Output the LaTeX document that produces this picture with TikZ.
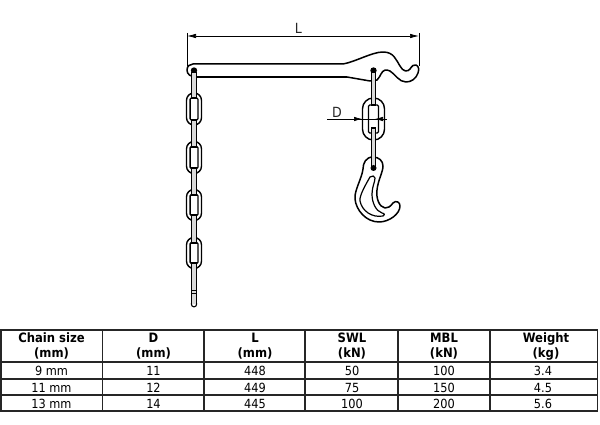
\documentclass[tikz,border=0pt]{standalone}
\usepackage{fontspec}
\setmainfont{DejaVu Sans Condensed}
\usetikzlibrary{arrows.meta}
\tikzset{
  ink/.style={draw=black,line width=1.3pt,line join=round},
  body/.style={ink,fill=white},
  rod/.style={draw=black,line width=1.1pt,double=white!85!black,double distance=3.4pt,line cap=butt},
  dim/.style={draw=black,line width=0.7pt},
  dimarrow/.style={dim,-{Latex[length=8pt,width=4.5pt]}},
  rule/.style={draw=black!85,line width=1.2pt},
  cell/.style={font=\fontsize{12.6}{13}\selectfont,anchor=center,inner sep=0pt,align=center,text=black},
  head/.style={cell,font=\fontsize{12.9}{15}\selectfont\bfseries},
  lbl/.style={font=\fontsize{14}{15}\selectfont,inner sep=0pt,text=black!85}
}
% cx, cy, half width, half height, wall x, wall y
\newcommand{\chainlink}[6]{%
  \draw[ink,line width=1.4pt,fill=white,rounded corners=#3*0.98pt] (#1-#3,#2-#4) rectangle (#1+#3,#2+#4);
  \draw[ink,line width=1.3pt,fill=white,rounded corners=1.2pt] (#1-#3+#5,#2-#4+#6) rectangle (#1+#3-#5,#2+#4-#6);
}
% rod ending in dark stubs
\newcommand{\chainrod}[3]{%
  \draw[rod] (#1,#2) -- (#1,#3);
  \fill[black] (#1-2.8,#2-0.7) rectangle (#1+2.8,#2+0.7);
  \fill[black] (#1-2.8,#3-0.7) rectangle (#1+2.8,#3+0.7);
}
\begin{document}
\begin{tikzpicture}[x=1pt,y=-1pt]
\useasboundingbox (0,0) rectangle (600,425);
\fill[white] (0,0) rectangle (600,425);
% dimension L
\coordinate (la) at (187,36); \coordinate (lb) at (419,36);
\draw[dim] (187,33) -- (187,66);
\draw[dim] (419,33) -- (419,66);
\draw[dim,{Latex[length=9pt,width=4.5pt]}-{Latex[length=9pt,width=4.5pt]}] (la) -- (lb);
\node[lbl] (ltext) at (298.5,28.5) {L};
% hook bar
\draw[body,line width=1.5pt] (193,64)
  -- (343,64)
  .. controls (355,62) and (372,52) .. (383,52)
  .. controls (394,52) and (396,60) .. (400,66)
  .. controls (403,72) and (408,72) .. (410,69)
  .. controls (412,66) and (414,64) .. (416,65)
  .. controls (419,66) and (419,70) .. (418,73)
  .. controls (416,79) and (411,82) .. (406,82)
  .. controls (399,82) and (395,74) .. (390,71)
  .. controls (386,69) and (383,70) .. (381,74)
  .. controls (380,76) and (379,78) .. (377,80)
  -- (370,81) -- (347,77) -- (197,77)
  .. controls (190,77) and (187,74) .. (187,70)
  .. controls (187,66) and (190,64) .. (193,64) -- cycle;
\draw[draw=black,line width=1.9pt] (197,77) -- (347,77);
% left chain
\chainlink{194}{109}{7.5}{16}{3.6}{5}
\chainlink{194}{157.5}{7.5}{16}{3.6}{5}
\chainlink{194}{205}{7.5}{15.5}{3.6}{5}
\chainlink{194}{253}{7.5}{15.5}{3.6}{5}
\fill[black] (194,70.5) circle[radius=3.2pt];
\chainrod{194}{72.5}{98}
\chainrod{194}{120}{147}
\chainrod{194}{168}{195}
\chainrod{194}{215}{243}
\draw[rod] (194,263) -- (194,304);
\fill[black] (191.2,262.3) rectangle (196.8,263.7);
\draw[ink,line width=1pt] (191.5,290) -- (196.5,290) (191.5,293) -- (196.5,293);
\draw[ink,line width=1.1pt] (191.2,303.5) .. controls (191.2,308) and (196.8,308) .. (196.8,303.5);
% right chain
\chainlink{373.5}{119}{11}{21}{6}{7}
\fill[black] (373.5,70.5) circle[radius=3.2pt];
\chainrod{373.5}{72.5}{105}
% D dimension
\coordinate (da) at (327,119); \coordinate (db) at (387,119);
\coordinate (dc) at (362,119); \coordinate (dd) at (375,119);
\draw[dim] (da) -- (db);
\draw[dimarrow] (da) -- (dc);
\draw[dimarrow] (db) -- (dd);
\node[lbl] (dtext) at (337,112) {D};
% hook
\draw[body,line width=1.5pt] (373,157)
  .. controls (366,157) and (363,163) .. (363,169)
  .. controls (362,178) and (354,191) .. (355,199)
  .. controls (356,210) and (366,222) .. (379,222)
  .. controls (389,222) and (400,214) .. (400,206)
  .. controls (400,202) and (396,200) .. (393,203)
  .. controls (390,207) and (388,208) .. (385,208)
  .. controls (379,207) and (376,198) .. (377,190)
  .. controls (378,180) and (383,172) .. (383,166)
  .. controls (383,161) and (379,157) .. (373,157) -- cycle;
\draw[ink,fill=white,line width=1.2pt] (370,177)
  .. controls (366,184) and (359,196) .. (360,201)
  .. controls (362,211) and (372,218) .. (383,216)
  .. controls (385,215.5) and (385,213.5) .. (382,213)
  .. controls (376,211) and (372,203) .. (372,194)
  .. controls (372,187) and (375,182) .. (375,178)
  .. controls (375,176) and (372,175) .. (370,177) -- cycle;
\chainrod{373.5}{128}{167}
\fill[black] (373.5,168) circle[radius=3pt];
% table rules
\coordinate (tl) at (1,330); \coordinate (br) at (597.5,411);
\draw[rule] (tl) rectangle (br);
\foreach \yy in {362,379,395} \draw[rule] (1,\yy) -- (597.5,\yy);
\foreach \xx in {102.5,204,305,398,490} \draw[rule] (\xx,330) -- (\xx,411);
% table text
\node[head] (h1) at (51.5,346) {Chain size\\(mm)};
\node[head] (h2) at (153.5,346) {D\\(mm)};
\node[head] (h3) at (255,346) {L\\(mm)};
\node[head] (h4) at (352,346) {SWL\\(kN)};
\node[head] (h5) at (444,346) {MBL\\(kN)};
\node[head] (h6) at (546,346) {Weight\\(kg)};
\node[cell] (a1) at (51.5,371) {9 mm};
\node[cell] (a2) at (153.5,371) {11};
\node[cell] (a3) at (255,371) {448};
\node[cell] (a4) at (352,371) {50};
\node[cell] (a5) at (444,371) {100};
\node[cell] (a6) at (543,371) {3.4};
\node[cell] (b1) at (51.5,387.5) {11 mm};
\node[cell] (b2) at (153.5,387.5) {12};
\node[cell] (b3) at (255,387.5) {449};
\node[cell] (b4) at (352,387.5) {75};
\node[cell] (b5) at (444,387.5) {150};
\node[cell] (b6) at (543,387.5) {4.5};
\node[cell] (c1) at (51.5,403.5) {13 mm};
\node[cell] (c2) at (153.5,403.5) {14};
\node[cell] (c3) at (255,403.5) {445};
\node[cell] (c4) at (352,403.5) {100};
\node[cell] (c5) at (444,403.5) {200};
\node[cell] (c6) at (543,403.5) {5.6};
\end{tikzpicture}
\end{document}
